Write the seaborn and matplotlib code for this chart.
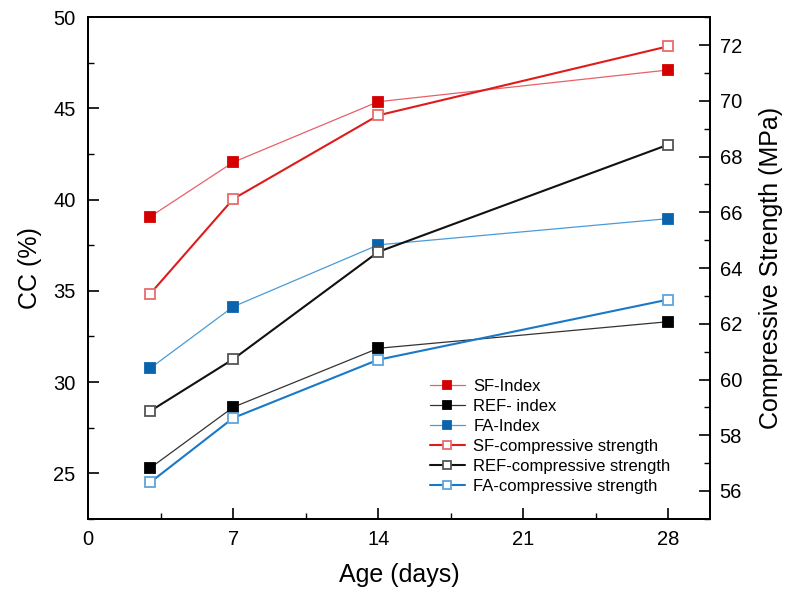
import matplotlib
matplotlib.use("Agg")
import matplotlib.pyplot as plt
import seaborn as sns
from matplotlib.ticker import MultipleLocator

days = [3, 7, 14, 28]
sf_index = [39.07, 42.05, 45.37, 47.11]
ref_index = [25.29, 28.62, 31.85, 33.31]
fa_index = [30.76, 34.13, 37.52, 38.96]
sf_cs = [63.08, 66.48, 69.48, 71.96]
ref_cs = [58.87, 60.73, 64.58, 68.43]
fa_cs = [56.31, 58.62, 60.71, 62.87]

sns.set_style("ticks")
plt.rcParams['font.family'] = ['Liberation Sans', 'DejaVu Sans']
plt.rcParams['text.color'] = 'black'
plt.rcParams['axes.labelcolor'] = 'black'

fig = plt.figure(figsize=(7.94, 5.95), dpi=100)
ax = fig.add_axes([0.111, 0.128, 0.783, 0.843])
ax2 = ax.twinx()

def draw(axis, y, line_color, face, edge, lw, label):
    sns.lineplot(x=days, y=y, ax=axis, color=line_color, linewidth=lw,
                 marker='s', markersize=7.3, markerfacecolor=face,
                 markeredgecolor=edge, markeredgewidth=1.3, label=label,
                 legend=False)

draw(ax, sf_index, '#e8606a', '#d40000', '#d40000', 0.9, 'SF-Index')
draw(ax, ref_index, '#333333', '#000000', '#000000', 0.9, 'REF- index')
draw(ax, fa_index, '#4a9bd6', '#0a64ad', '#0a64ad', 0.9, 'FA-Index')
draw(ax2, sf_cs, '#dd1c1c', 'white', '#e86b6b', 1.5, 'SF-compressive strength')
draw(ax2, ref_cs, '#111111', 'white', '#555555', 1.5, 'REF-compressive strength')
draw(ax2, fa_cs, '#1a78c8', 'white', '#5fa4db', 1.5, 'FA-compressive strength')

ax.set_xlim(0, 30)
ax.set_ylim(22.5, 50)
ax2.set_ylim(55, 73)
ax.set_xticks([0, 7, 14, 21, 28])
ax.xaxis.set_minor_locator(MultipleLocator(3.5))
ax.set_yticks([25, 30, 35, 40, 45, 50])
ax.yaxis.set_minor_locator(MultipleLocator(2.5))
ax2.set_yticks([56, 58, 60, 62, 64, 66, 68, 70, 72])
ax2.yaxis.set_minor_locator(MultipleLocator(1))

for a in (ax, ax2):
    for s in a.spines.values():
        s.set_linewidth(1.3)
        s.set_color('black')
    a.tick_params(which='major', direction='in', length=8, width=1.2, labelsize=14.5,
                  colors='black', labelcolor='black')
    a.tick_params(which='minor', direction='in', length=4, width=1.0, colors='black')
ax.tick_params(axis='y', which='both', right=False)
ax.tick_params(axis='x', which='both', top=False, pad=8)
ax.tick_params(axis='y', pad=9)
ax2.tick_params(axis='y', pad=7)

ax.set_xlabel('Age (days)', fontsize=18, labelpad=10)
ax.set_ylabel('CC (%)', fontsize=18, labelpad=8)
ax2.set_ylabel('Compressive Strength (MPa)', fontsize=18, labelpad=12)

h1, l1 = ax.get_legend_handles_labels()
h2, l2 = ax2.get_legend_handles_labels()
leg = ax2.legend(h1 + h2, l1 + l2, loc='upper left', bbox_to_anchor=(0.531, 0.377),
                 bbox_transform=fig.transFigure, frameon=False, fontsize=12,
                 handlelength=2.1, handletextpad=0.5, labelspacing=0.3,
                 markerscale=0.85, borderpad=0)

fig.savefig('out.png', dpi=100)
